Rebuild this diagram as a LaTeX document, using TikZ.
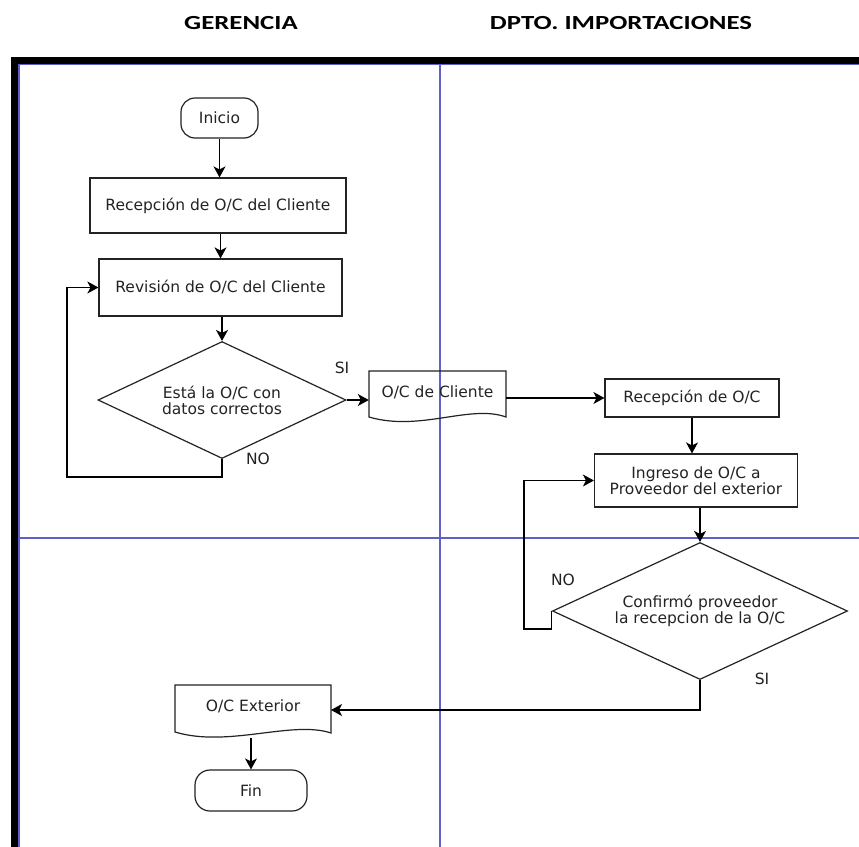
\documentclass[tikz,border=0pt]{standalone}
\usepackage{fontspec}
\setmainfont{DejaVu Sans}
\newfontfamily\headfont{Carlito}
\usetikzlibrary{arrows.meta,shapes.geometric}
\definecolor{lane}{RGB}{95,95,200}
\definecolor{ink}{RGB}{35,35,35}
\begin{document}
\begin{tikzpicture}[x=1pt,y=-1pt,
  txt/.style={text=ink,font=\fontsize{15.5}{16}\selectfont,align=center,inner sep=0pt},
  box/.style={txt,draw=ink,line width=1.2pt},
  rectbox/.style={box,rectangle},
  termbox/.style={box,rectangle,rounded corners=14pt},
  decbox/.style={box,diamond,inner sep=0pt},
  docbox/.style={txt,rectangle},
  docline/.style={draw=ink,line width=1.2pt},
  lbl/.style={txt},
  head/.style={font=\headfont\bfseries\fontsize{20}{20}\selectfont,text=black,inner sep=0pt},
  arr/.style={draw=black,line width=1.1pt,-{Stealth[length=11pt,width=12pt,inset=3pt]}},
  lanel/.style={draw=lane,line width=1.4pt}
]
\useasboundingbox (0,0) rectangle (859,846);
\fill[white] (0,0) rectangle (859,846);

% headers
\node[head] (h1) at (241,23) {\scalebox{1.34}[1]{GERENCIA}};
\node[head] (h2) at (621,23) {\scalebox{1.34}[1]{DPTO. IMPORTACIONES}};

% pool frame and lanes
\begin{scope}
\clip (0,0) rectangle (859,846);
\draw[lanel] (19,64) -- (19,860);
\draw[lanel] (19,64) -- (870,64);
\draw[lanel] (440,64) -- (440,860);
\draw[lanel] (19,538) -- (870,538);
\draw[line width=7pt,black] (14,870) -- (14,60.5) -- (880,60.5);
\end{scope}

% nodes
\node[termbox,minimum width=77pt,minimum height=40pt] (inicio) at (219.5,118) {Inicio};
\node[rectbox,minimum width=256pt,minimum height=55pt] (rec1) at (218,205.5) {Recepción de O/C del Cliente};
\node[rectbox,minimum width=243pt,minimum height=57pt] (rev) at (220.5,287.5) {Revisión de O/C del Cliente};
\node[decbox,aspect=2.12,minimum width=248pt,minimum height=117pt] (d1) at (222,400) {Está la O/C con\\datos correctos};

\node[docbox,minimum width=137pt,minimum height=42pt] (doc1) at (437.5,392) {O/C de Cliente};
\draw[docline] (369,371) -- (506,371) -- (506,417) .. controls (470,404) and (420,432) .. (369,417) -- cycle;

\node[rectbox,minimum width=174pt,minimum height=38pt] (rec2) at (692,398) {Recepción de O/C};
\node[rectbox,minimum width=203pt,minimum height=53pt] (ing) at (696,480.5) {Ingreso de O/C a\\Proveedor del exterior};
\node[decbox,aspect=2.15,minimum width=295pt,minimum height=137pt] (d2) at (700,611) {Confirmó proveedor\\la recepcion de la O/C};

\node[docbox,minimum width=156pt,minimum height=42pt] (doc2) at (253,706) {O/C Exterior};
\draw[docline] (175,685) -- (331,685) -- (331,733) .. controls (292,720) and (228,748) .. (175,732) -- cycle;

\node[termbox,minimum width=112pt,minimum height=41pt,rounded corners=15pt] (fin) at (251,790.5) {Fin};

% labels
\node[lbl] (si1) at (342,368) {SI};
\node[lbl] (no1) at (258,459) {NO};
\node[lbl] (no2) at (563,580) {NO};
\node[lbl] (si2) at (762,679) {SI};

% helper coordinates
\coordinate (c1) at (67,477);
\coordinate (c2) at (524,629);
\coordinate (e2) at (331,710);
\coordinate (db2) at (251,738);

% connectors
\draw[arr] (inicio.south) -- (inicio.south |- rec1.north);
\draw[arr] (rec1.south -| rev.north) -- (rev.north);
\draw[arr] (rev.south -| d1.north) -- (d1.north);
\draw[arr] (d1.south) |- (c1) |- (rev.west);
\draw[arr] (d1.east) -- (d1.east -| doc1.west);
\draw[arr] (rec2.west -| doc1.east) -- (rec2.west);
\draw[arr] (rec2.south) -- (rec2.south |- ing.north);
\draw[arr] (ing.south -| d2.north) -- (d2.north);
\draw[arr] (d2.west) |- (c2) |- (ing.west);
\draw[arr] (d2.south) |- (e2);
\draw[arr] (db2) -- (fin.north);
\end{tikzpicture}
\end{document}
